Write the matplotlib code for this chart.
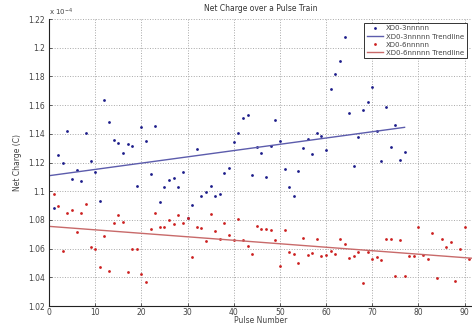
import matplotlib
matplotlib.use("Agg")
import matplotlib.pyplot as plt
import numpy as np

# ---- data (values in units of 1e-4 C) ----
blue_y = [1.0881, 1.1252, 1.1195, 1.1420, 1.1083, 1.1150, 1.1073, 1.1405, 1.1213, 1.1132,
          1.0934, 1.1636, 1.1480, 1.1357, 1.1334, 1.1264, 1.1327, 1.1315, 1.1034, 1.1450,
          1.1350, 1.1120, 1.1452, 1.0926, 1.1030, 1.1077, 1.1090, 1.1030, 1.1136, 1.0810,
          1.0902, 1.1292, 1.0965, 1.0997, 1.1035, 1.0965, 1.0983, 1.1125, 1.1162, 1.1343,
          1.1408, 1.1513, 1.1529, 1.1115, 1.1305, 1.1267, 1.1097, 1.1315, 1.1499, 1.1349,
          1.1153, 1.1031, 1.0967, 1.1141, 1.1301, 1.1362, 1.1261, 1.1408, 1.1387, 1.1285,
          1.1710, 1.1815, 1.1907, 1.2072, 1.1543, 1.1174, 1.1378, 1.1568, 1.1624, 1.1726,
          1.1420, 1.1213, 1.1589, 1.1308, 1.1459, 1.1220, 1.1271]
blue_x = list(range(1, len(blue_y) + 1))

red_y = [1.0978, 1.0900, 1.0585, 1.0850, 1.0867, 1.0716, 1.0850, 1.0909, 1.0610, 1.0595,
         1.0470, 1.0686, 1.0444, 1.0778, 1.0834, 1.0783, 1.0439, 1.0595, 1.0595, 1.0424,
         1.0368, 1.0739, 1.0848, 1.0748, 1.0751, 1.0800, 1.0774, 1.0834, 1.0780, 1.0811,
         1.0544, 1.0753, 1.0744, 1.0655, 1.0841, 1.0725, 1.0667, 1.0776, 1.0693, 1.0660,
         1.0809, 1.0660, 1.0618, 1.0562, 1.0755, 1.0737, 1.0734, 1.0727, 1.0662, 1.0479,
         1.0727, 1.0578, 1.0560, 1.0497, 1.0676, 1.0555, 1.0567, 1.0665, 1.0546, 1.0558,
         1.0581, 1.0560, 1.0667, 1.0634, 1.0532, 1.0551, 1.0574, 1.0358, 1.0574, 1.0525,
         1.0539, 1.0521, 1.0669, 1.0669, 1.0411, 1.0662, 1.0409, 1.0546, 1.0546, 1.0753,
         1.0555, 1.0525, 1.0711, 1.0395, 1.0667, 1.0609, 1.0648, 1.0377, 1.0595, 1.0753,
         1.0525]
red_x = list(range(1, len(red_y) + 1))

# trendline end points
blue_trend_x = [0, 77]
blue_trend_y = [1.1108, 1.1445]
red_trend_x = [0, 92]
red_trend_y = [1.0755, 1.0532]

labels = ["XD0-3nnnnn", "XD0-3nnnnn Trendline", "XD0-6nnnnn", "XD0-6nnnnn Trendline"]
x_ticks = [0, 10, 20, 30, 40, 50, 60, 70, 80, 90]
y_ticks = [1.02, 1.04, 1.06, 1.08, 1.10, 1.12, 1.14, 1.16, 1.18, 1.20, 1.22]
y_tick_labels = ["1.02", "1.04", "1.06", "1.08", "1.1", "1.12", "1.14", "1.16", "1.18", "1.2", "1.22"]

plt.rcParams['font.family'] = ['DejaVu Sans']
fig = plt.figure(figsize=(4.72, 3.26), dpi=100)
ax = fig.add_axes([49 / 472, 1 - 306 / 326, 423 / 472, 287 / 326])

ax.plot(blue_x, blue_y, linestyle='none', marker='o', ms=2.0, mew=0,
        color='#1c1c8a', label=labels[0])
ax.plot(blue_trend_x, blue_trend_y, color='#5c5cac', lw=1.0, label=labels[1])
ax.plot(red_x, red_y, linestyle='none', marker='o', ms=2.0, mew=0,
        color='#cc2020', label=labels[2])
ax.plot(red_trend_x, red_trend_y, color='#c86a6a', lw=1.0, label=labels[3])

ax.set_xlim(0, 91.6)
ax.set_ylim(1.02, 1.22)
ax.set_xticks(x_ticks)
ax.set_yticks(y_ticks)
ax.set_yticklabels(y_tick_labels)
ax.tick_params(labelsize=5.5, colors='#444444', length=2.5, width=0.6, direction='in')
ax.tick_params(axis='x', pad=1.5)
ax.tick_params(axis='y', pad=3)
ax.grid(True, linestyle=':', color='#a8a8a8', lw=0.7)
ax.set_axisbelow(True)
for s in ['top', 'right']:
    ax.spines[s].set_visible(False)
for s in ['left', 'bottom']:
    ax.spines[s].set_color('#222222')
    ax.spines[s].set_linewidth(0.8)

ax.set_title("Net Charge over a Pulse Train", fontsize=5.5, color='#333333', pad=6)
ax.set_xlabel("Pulse Number", fontsize=5.5, color='#444444', va='center')
ax.xaxis.set_label_coords(0.5, -0.052)
ax.set_ylabel("Net Charge (C)", fontsize=5.5, color='#444444', labelpad=4)
ax.text(0.0, 1.005, r"x 10$^{-4}$", transform=ax.transAxes, fontsize=5,
        color='#444444', ha='left', va='bottom')

leg = ax.legend(loc='upper right', fontsize=5.0, frameon=True, fancybox=False,
                edgecolor='#333333', framealpha=1, borderpad=0.35, labelspacing=0.3,
                handlelength=2.4, handletextpad=0.4, borderaxespad=0.0,
                bbox_to_anchor=(0.987, 0.986))
leg.get_frame().set_linewidth(0.7)
for t in leg.get_texts():
    t.set_color('#444444')

fig.savefig("out.png", dpi=100)
